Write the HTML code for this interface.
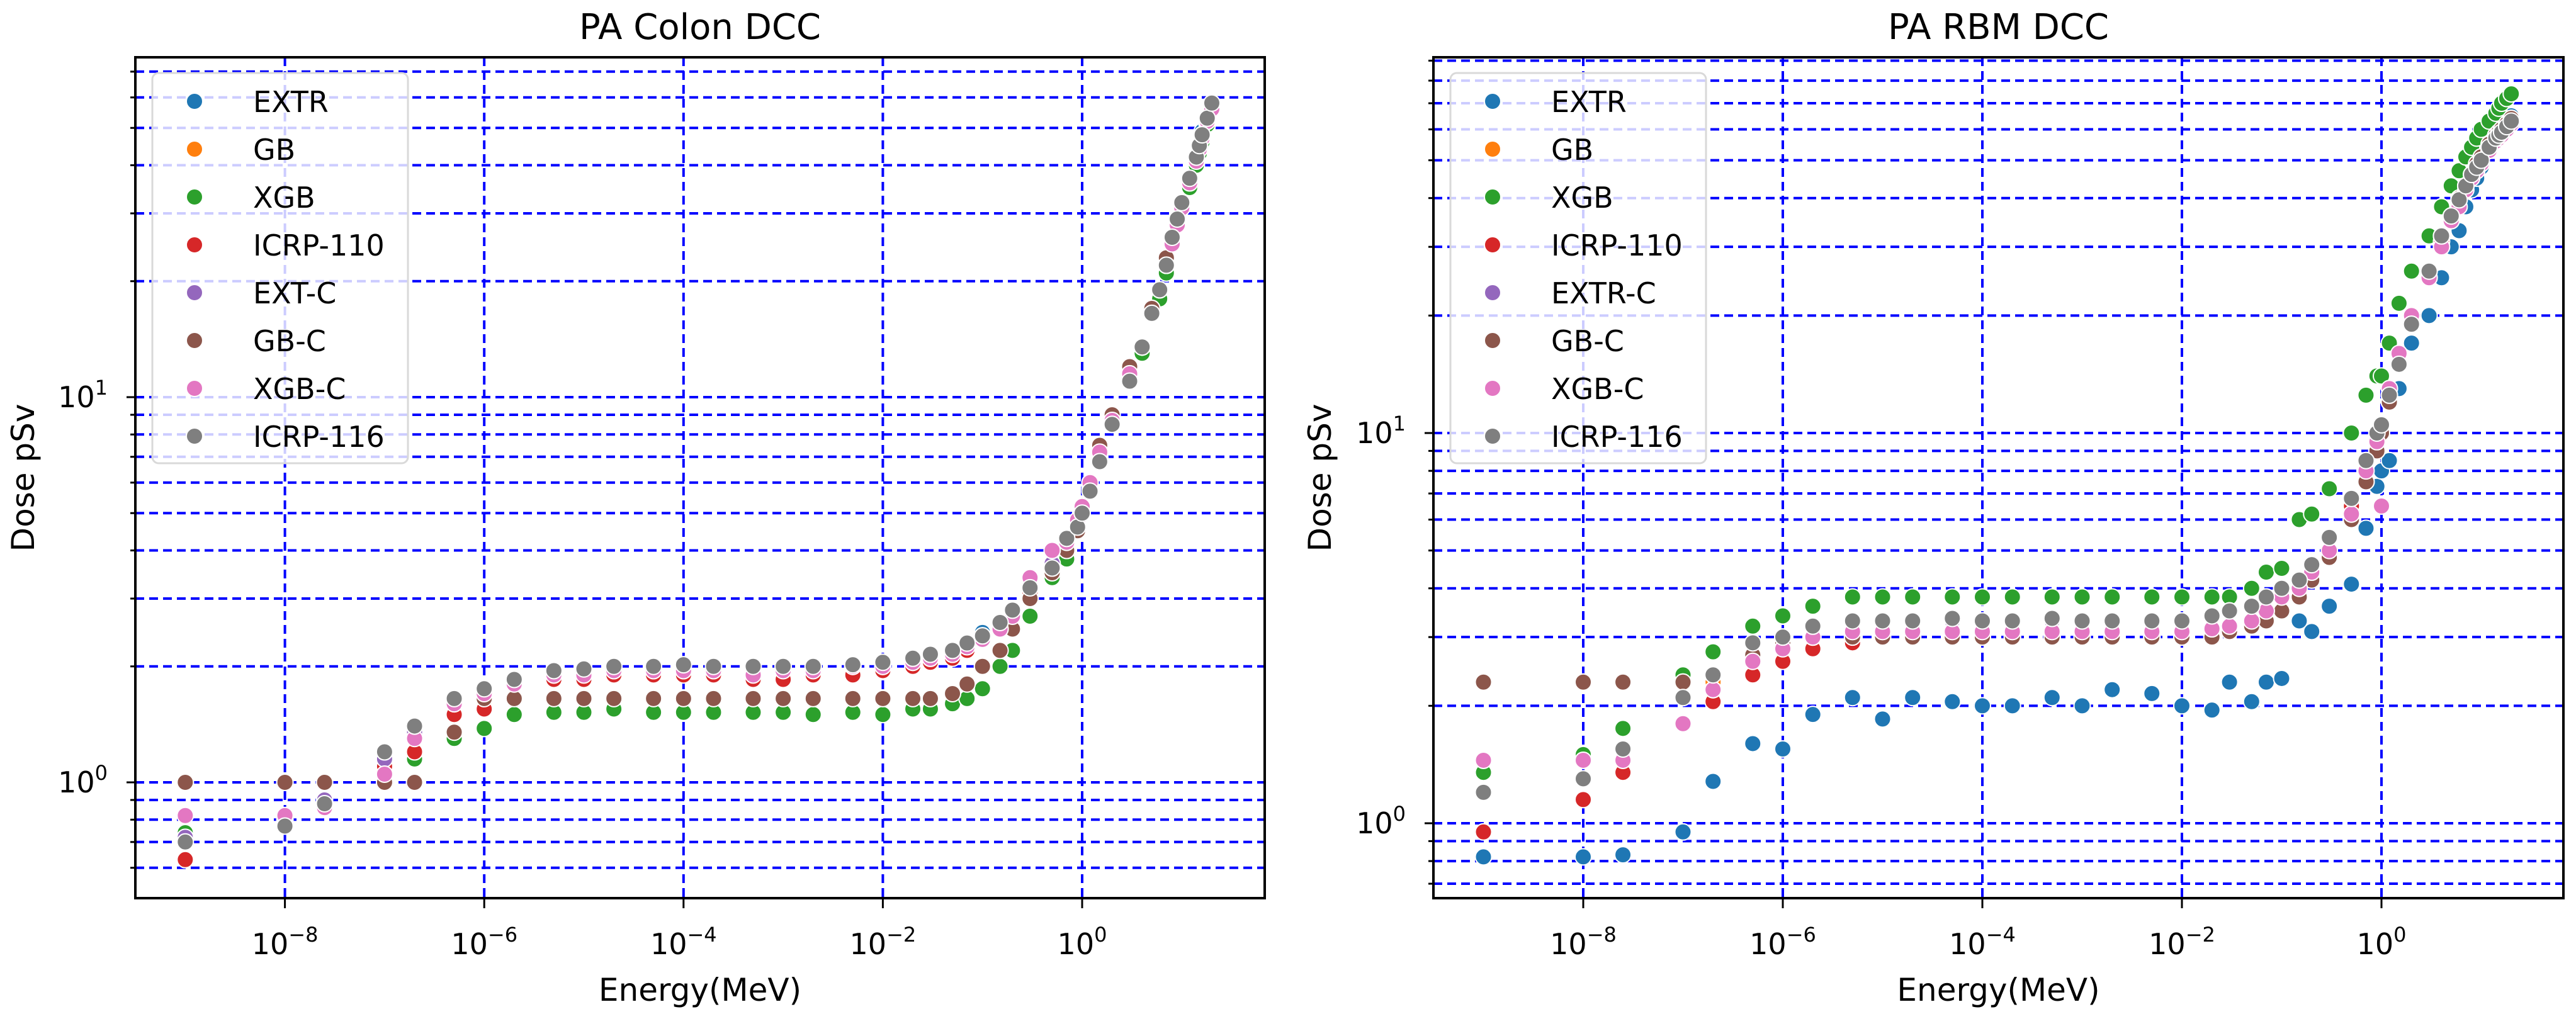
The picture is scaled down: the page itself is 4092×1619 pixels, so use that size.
<!DOCTYPE html>
<html><head><meta charset="utf-8">
<style>
html,body{margin:0;padding:0;background:#fff;}
svg{display:block;font-family:"DejaVu Sans","Liberation Sans",sans-serif;}
</style></head>
<body>
<svg id="fig" width="4092" height="1619" viewBox="0 0 4092 1619" xmlns="http://www.w3.org/2000/svg"></svg>
<script>
const energies=[1e-9,1e-8,2.5e-8,1e-7,2e-7,5e-7,1e-6,2e-6,5e-6,1e-5,2e-5,5e-5,1e-4,2e-4,5e-4,1e-3,2e-3,5e-3,1e-2,2e-2,3e-2,5e-2,7e-2,0.1,0.15,0.2,0.3,0.5,0.7,0.9,1,1.2,1.5,2,3,4,5,6,7,8,9,10,12,14,15,16,18,20];
const seriesNamesLeft=["EXTR","GB","XGB","ICRP-110","EXT-C","GB-C","XGB-C","ICRP-116"];
const seriesNamesRight=["EXTR","GB","XGB","ICRP-110","EXTR-C","GB-C","XGB-C","ICRP-116"];
const seriesColors=["#1f77b4","#ff7f0e","#2ca02c","#d62728","#9467bd","#8c564b","#e377c2","#7f7f7f"];
const xTickLabels=["-8","-6","-4","-2","0"];
const xTickValues=[1e-8,1e-6,1e-4,1e-2,1];
const yTickLabels=["0","1"];
const yTickValues=[1,10];
const yMinorValues=[0.6,0.7,0.8,0.9,2,3,4,5,6,7,8,9,20,30,40,50,60,70,80,90];

// PA Colon DCC
const colonEXTR=[0.72,0.78,0.88,1.15,1.35,1.6,1.7,1.85,1.92,1.95,1.95,1.95,1.95,1.95,1.9,1.95,2.0,2.0,2.05,2.1,2.15,2.2,2.3,2.45,2.6,2.8,3.2,3.7,4.2,4.6,5.1,5.8,6.9,8.6,11,13.5,16.5,19,22,26,29,32,37,42,45,49,53,58];
const colonGB=[1.0,1.0,1.0,1.0,1.0,1.35,1.62,1.64,1.65,1.65,1.65,1.65,1.65,1.65,1.65,1.65,1.65,1.65,1.65,1.65,1.65,1.7,1.8,2.0,2.2,2.5,3.0,3.5,4.0,4.5,5.2,6.0,7.5,9,12,13.5,17,19,23,26,29,32,37,42,45,48,53,57];
const colonXGB=[0.74,0.78,0.88,1.0,1.15,1.3,1.38,1.5,1.52,1.52,1.55,1.52,1.52,1.52,1.52,1.52,1.5,1.52,1.5,1.55,1.55,1.6,1.65,1.75,2.0,2.2,2.7,3.4,3.8,4.5,5.2,6.0,7.2,8.8,11.2,13,16.5,18,21,25,28,31,35,40,43,46,51,56];
const colonICRP110=[0.63,0.8,0.87,1.1,1.2,1.5,1.55,1.8,1.85,1.85,1.9,1.9,1.9,1.9,1.85,1.85,1.9,1.9,1.95,2.0,2.05,2.1,2.2,2.35,2.5,2.7,3.1,3.6,4.2,4.6,5.2,5.8,7.0,8.6,11.5,13.5,17,19,22,26,29,32,37,42,45,48,52,57];
const colonEXTC=[0.72,0.78,0.9,1.15,1.35,1.6,1.7,1.85,1.9,1.95,1.95,1.95,1.95,1.95,1.95,2.0,2.0,2.0,2.0,2.05,2.1,2.2,2.3,2.4,2.6,2.8,3.2,3.7,4.3,4.6,5.0,5.7,6.9,8.5,11,13.5,16.5,19,22,26,29,32,37,42,45,48,53,58];
const colonGBC=[1.0,1.0,1.0,1.0,1.0,1.35,1.65,1.65,1.65,1.65,1.65,1.65,1.65,1.65,1.65,1.65,1.65,1.65,1.65,1.65,1.65,1.7,1.8,2.0,2.2,2.5,3.0,3.5,4.0,4.5,5.2,6.0,7.5,9,12,13.5,17,19,23,26,29,32,37,42,45,48,53,57];
const colonXGBC=[0.82,0.82,0.86,1.05,1.3,1.6,1.7,1.8,1.9,1.9,1.95,1.95,1.95,1.95,1.9,1.95,1.95,2.0,2.0,2.05,2.1,2.15,2.25,2.35,2.5,2.7,3.4,4.0,4.2,4.8,5.2,6.0,7.2,8.7,11.5,13.5,16.5,19,22,25,28,31,36,41,44,47,52,56];
const colonICRP116=[0.70,0.77,0.88,1.2,1.4,1.65,1.75,1.85,1.95,1.97,2.0,2.0,2.02,2.0,2.0,2.0,2.0,2.02,2.05,2.1,2.15,2.2,2.3,2.4,2.6,2.8,3.2,3.6,4.3,4.6,5.0,5.7,6.8,8.5,11,13.5,16.5,19,22,26,29,32,37,42,45,48,53,58];

// PA RBM DCC
const rbmEXTR=[0.82,0.82,0.83,0.95,1.28,1.6,1.55,1.9,2.1,1.85,2.1,2.05,2.0,2.0,2.1,2.0,2.2,2.15,2.0,1.95,2.3,2.05,2.3,2.35,3.3,3.1,3.6,4.1,5.7,7.3,8.0,8.5,13,17,20,25,30,33,38,42,45,48,53,57,58,60,62,65];
const rbmGB=[2.3,2.3,2.3,2.3,2.3,2.7,2.9,3.0,3.0,3.0,3.0,3.0,3.0,3.0,3.0,3.0,3.0,3.0,3.0,3.0,3.1,3.2,3.3,3.5,3.8,4.2,4.8,6.0,7.5,9,10,12,15,19,26,32,36,40,43,46,49,51,55,58,59,60,62,64];
const rbmXGB=[1.35,1.5,1.75,2.4,2.75,3.2,3.4,3.6,3.8,3.8,3.8,3.8,3.8,3.8,3.8,3.8,3.8,3.8,3.8,3.8,3.8,4.0,4.4,4.5,6.0,6.2,7.2,10,12.5,14,14,17,21.5,26,32,38,43,47,51,54,57,60,63,66,68,70,72,74];
const rbmICRP110=[0.95,1.15,1.35,2.3,2.05,2.4,2.6,2.8,2.9,3.0,3.0,3.0,3.0,3.0,3.0,3.0,3.0,3.0,3.0,3.05,3.1,3.2,3.3,3.5,3.9,4.2,4.8,6.5,7.5,9,10,12,15,19,25,31,36,40,43,46,49,51,55,58,59,60,62,64];
const rbmEXTRC=[1.2,1.3,1.55,2.1,2.4,2.9,3.0,3.2,3.3,3.3,3.3,3.3,3.3,3.3,3.3,3.3,3.3,3.3,3.3,3.4,3.5,3.6,3.8,4.0,4.2,4.6,5.4,6.8,8.5,10,10.5,12.5,15,19,26,32,36,39.6,43,46,48,50,54,57,58,59,61,63];
const rbmGBC=[2.3,2.3,2.3,2.3,2.2,2.7,2.9,3.0,3.0,3.0,3.0,3.0,3.0,3.0,3.0,3.0,3.0,3.0,3.0,3.0,3.1,3.2,3.3,3.5,3.8,4.2,4.8,6.0,7.5,9,10,12,15,19,26,32,36,40,43,46,49,51,55,58,59,60,62,64];
const rbmXGBC=[1.45,1.45,1.45,1.8,2.2,2.6,2.8,3.0,3.1,3.1,3.1,3.1,3.1,3.1,3.1,3.1,3.1,3.1,3.1,3.15,3.2,3.3,3.5,3.8,4.0,4.4,5.0,6.2,8.0,9.5,6.5,13,16,20,25,30,35,38,42,45,47,49,53,56,57,58,60,62];
const rbmICRP116=[1.2,1.3,1.55,2.1,2.4,2.9,3.0,3.2,3.3,3.3,3.3,3.35,3.3,3.3,3.35,3.3,3.3,3.3,3.3,3.4,3.5,3.6,3.8,4.0,4.2,4.6,5.4,6.8,8.5,10,10.5,12.5,15,19,26,32,36,39.6,43,46,48,50,54,57,58,59,61,63];

const NS="http://www.w3.org/2000/svg";
const svg=document.getElementById('fig');
function mk(tag,attrs,parent){const e=document.createElementNS(NS,tag);for(const k in attrs)e.setAttribute(k,attrs[k]);(parent||svg).appendChild(e);return e;}

function drawChart(cfg){
  const g=mk('g',{});
  
  
  const X=e=>cfg.x10+cfg.xdec*Math.log10(e);
  const Y=v=>cfg.y10-cfg.ydec*(Math.log10(v)-1);
  const clip='clip-'+cfg.name;
  const defs=mk('defs',{},g);
  const cp=mk('clipPath',{id:clip},defs);
  mk('rect',{x:cfg.x0,y:cfg.y0,width:cfg.x1-cfg.x0,height:cfg.y1-cfg.y0},cp);
  const grid=mk('g',{'clip-path':'url(#'+clip+')'},g);
  
  
  yMinorValues.concat(yTickValues).forEach(v=>{
    const y=Y(v);
    if(y<cfg.y0||y>cfg.y1)return;
    const l=mk('line',{x1:cfg.x0,x2:cfg.x1,y1:y,y2:y,stroke:'#0000ff','stroke-width':4,'stroke-dasharray':'14,8'},grid);
    
    
    const t=mk('line',{x1:cfg.x0,x2:cfg.x0-(yTickValues.includes(v)?14:8),y1:y,y2:y,stroke:'#000','stroke-width':3},g);
    
    
  });
  xTickValues.forEach((v,i)=>{
    const x=X(v);
    const l=mk('line',{x1:x,x2:x,y1:cfg.y0,y2:cfg.y1,stroke:'#0000ff','stroke-width':4,'stroke-dasharray':'14,8'},grid);
    
    
    const t=mk('line',{x1:x,x2:x,y1:cfg.y1,y2:cfg.y1+16,stroke:'#000','stroke-width':3},g);
    
    
    const tx=mk('text',{x:x,y:1516,'font-size':46,'text-anchor':'middle',fill:'#000'},g);
    
    
    tx.appendChild(document.createTextNode('10'));
    const sup=mk('tspan',{dy:-20,'font-size':32},tx);
    sup.textContent=xTickLabels[i].replace('-','\u2212');
  });
  yTickValues.forEach((v,i)=>{
    const y=Y(v);
    const tx=mk('text',{x:cfg.x0-44,y:y+16,'font-size':46,'text-anchor':'end',fill:'#000'},g);
    
    
    tx.appendChild(document.createTextNode('10'));
    const sup=mk('tspan',{dy:-20,'font-size':32},tx);
    sup.textContent=yTickLabels[i];
  });
  const pts=mk('g',{'clip-path':'url(#'+clip+')'},g);
  
  
  cfg.series.forEach((s,si)=>{
    const sg=mk('g',{},pts);
    
    
    s.forEach((v,i)=>{
      const c=mk('circle',{cx:X(energies[i]),cy:Y(v),r:13,fill:seriesColors[si],stroke:'#fff','stroke-width':2},sg);
      
      
    });
  });
  // legend
  const lg=mk('g',{},g);
  
  
  const lb=mk('rect',{x:cfg.lx,y:cfg.ly,width:406,height:620,rx:10,fill:'#fff','fill-opacity':0.8,stroke:'#d9d9d9','stroke-width':3},lg);
  
  
  cfg.names.forEach((n,i)=>{
    const cy=cfg.ly+45+i*76;
    const c=mk('circle',{cx:cfg.lx+67,cy:cy,r:13,fill:seriesColors[i],stroke:'#fff','stroke-width':2},lg);
    
    
    const t=mk('text',{x:cfg.lx+160,y:cy+17,'font-size':46,fill:'#000'},lg);
    
    
    t.textContent=n;
  });
  const fr=mk('rect',{x:cfg.x0,y:cfg.y0,width:cfg.x1-cfg.x0,height:cfg.y1-cfg.y0,fill:'none',stroke:'#000','stroke-width':4},g);
  
  
  const cx=(cfg.x0+cfg.x1)/2;
  const ti=mk('text',{x:cx,y:62,'font-size':56,'text-anchor':'middle',fill:'#000'},g);
  
  
  ti.textContent=cfg.title;
  const xl=mk('text',{x:cx,y:1590,'font-size':50,'text-anchor':'middle',fill:'#000'},g);
  
  
  xl.textContent='Energy(MeV)';
  const yc=(cfg.y0+cfg.y1)/2;
  const yl=mk('text',{x:cfg.ylx,y:yc,'font-size':50,'text-anchor':'middle',fill:'#000',transform:'rotate(-90 '+cfg.ylx+' '+yc+')'},g);
  
  
  yl.textContent='Dose pSv';
}

drawChart({name:'colon-chart',title:'PA Colon DCC',x0:215,x1:2009,y0:91,y1:1427,x10:1719,xdec:158.3,y10:631,ydec:612,lx:242,ly:116,ylx:54,
  names:seriesNamesLeft,series:[colonEXTR,colonGB,colonXGB,colonICRP110,colonEXTC,colonGBC,colonXGBC,colonICRP116]});
drawChart({name:'rbm-chart',title:'PA RBM DCC',x0:2277,x1:4072,y0:91,y1:1427,x10:3783,xdec:158.5,y10:688,ydec:620,lx:2304,ly:116,ylx:2114,
  names:seriesNamesRight,series:[rbmEXTR,rbmGB,rbmXGB,rbmICRP110,rbmEXTRC,rbmGBC,rbmXGBC,rbmICRP116]});
</script>
</body></html>
